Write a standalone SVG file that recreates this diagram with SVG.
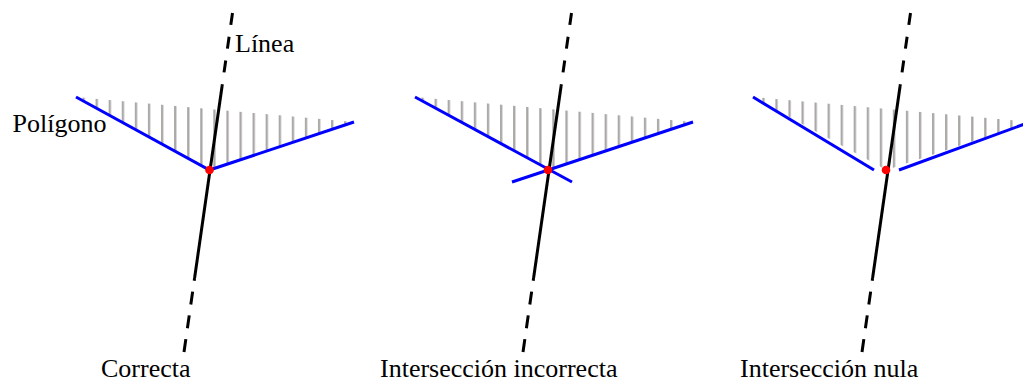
<svg xmlns="http://www.w3.org/2000/svg" width="1023" height="381" viewBox="0 0 1023 381">
  <style>
    .line { stroke: #000; stroke-width: 3; fill: none; }
    .dash { stroke: #000; stroke-width: 3; fill: none; stroke-dasharray: 12 12; }
    .edge { stroke: #0000ff; stroke-width: 3; fill: none; }
    .dot { fill: #ff0000; }
    .hatch { stroke: none; }
    .lbl { font-family: 'Liberation Serif', 'Times New Roman', Times, serif; font-size: 26px; fill: #000; }
  </style>
  <defs>
    <pattern id="hatch1" patternUnits="userSpaceOnUse" x="4" y="0" width="13.08" height="400">
      <line x1="1.2" y1="0" x2="1.2" y2="400" stroke="#a9a6a6" stroke-width="2.3"/>
    </pattern>
    <pattern id="hatch3" patternUnits="userSpaceOnUse" x="7" y="0" width="13.05" height="400">
      <line x1="1.2" y1="0" x2="1.2" y2="400" stroke="#a9a6a6" stroke-width="2.3"/>
    </pattern>
  </defs>

  <!-- Panel 1: Correcta -->
  <g id="panel-correcta">
    <polygon class="hatch" points="76,97 209.5,170 354,122" fill="url(#hatch1)"/>
    <g id="linea-1">
      <line class="dash" x1="232.5" y1="13" x2="222.1" y2="86"/>
      <line class="line" x1="222.1" y1="86" x2="194.6" y2="278"/>
      <line class="dash" x1="184" y1="352" x2="194.6" y2="278" style="stroke-dasharray:13 11"/>
    </g>
    <g id="poligono-1">
      <polyline class="edge" points="76,97 209.5,170 354,122"/>
    </g>
    <circle class="dot" cx="209.5" cy="170" r="4.3"/>
    <text class="lbl" x="235" y="52">Línea</text>
    <text class="lbl" x="12.5" y="132">Polígono</text>
    <text class="lbl" x="101" y="377">Correcta</text>
  </g>

  <!-- Panel 2: Intersección incorrecta -->
  <g id="panel-incorrecta" transform="translate(339,0)">
    <polygon class="hatch" points="76,97 209.5,170 354,122" fill="url(#hatch1)"/>
    <g id="linea-2">
      <line class="dash" x1="232.5" y1="13" x2="222.1" y2="86"/>
      <line class="line" x1="222.1" y1="86" x2="194.6" y2="278"/>
      <line class="dash" x1="184" y1="352" x2="194.6" y2="278" style="stroke-dasharray:13 11"/>
    </g>
    <g id="poligono-2">
      <line class="edge" x1="76" y1="97" x2="233" y2="182"/>
      <line class="edge" x1="173" y1="182" x2="354" y2="122"/>
    </g>
    <circle class="dot" cx="209" cy="170" r="4.3"/>
  </g>
  <text class="lbl" x="380" y="377">Intersección incorrecta</text>

  <!-- Panel 3: Intersección nula -->
  <g id="panel-nula" transform="translate(677,0)">
    <polygon class="hatch" points="76,97 209.5,170 354,122" fill="url(#hatch3)"/>
    <g id="linea-3">
      <line class="dash" x1="233.5" y1="13" x2="223.1" y2="86"/>
      <line class="line" x1="223.1" y1="86" x2="195.6" y2="278"/>
      <line class="dash" x1="185" y1="352" x2="195.6" y2="278" style="stroke-dasharray:13 11"/>
    </g>
    <g id="poligono-3">
      <line class="edge" x1="76" y1="97" x2="197" y2="170"/>
      <line class="edge" x1="222" y1="170" x2="356" y2="121"/>
    </g>
    <circle class="dot" cx="209" cy="170" r="4.3"/>
  </g>
  <text class="lbl" x="740" y="377">Intersección nula</text>
</svg>
